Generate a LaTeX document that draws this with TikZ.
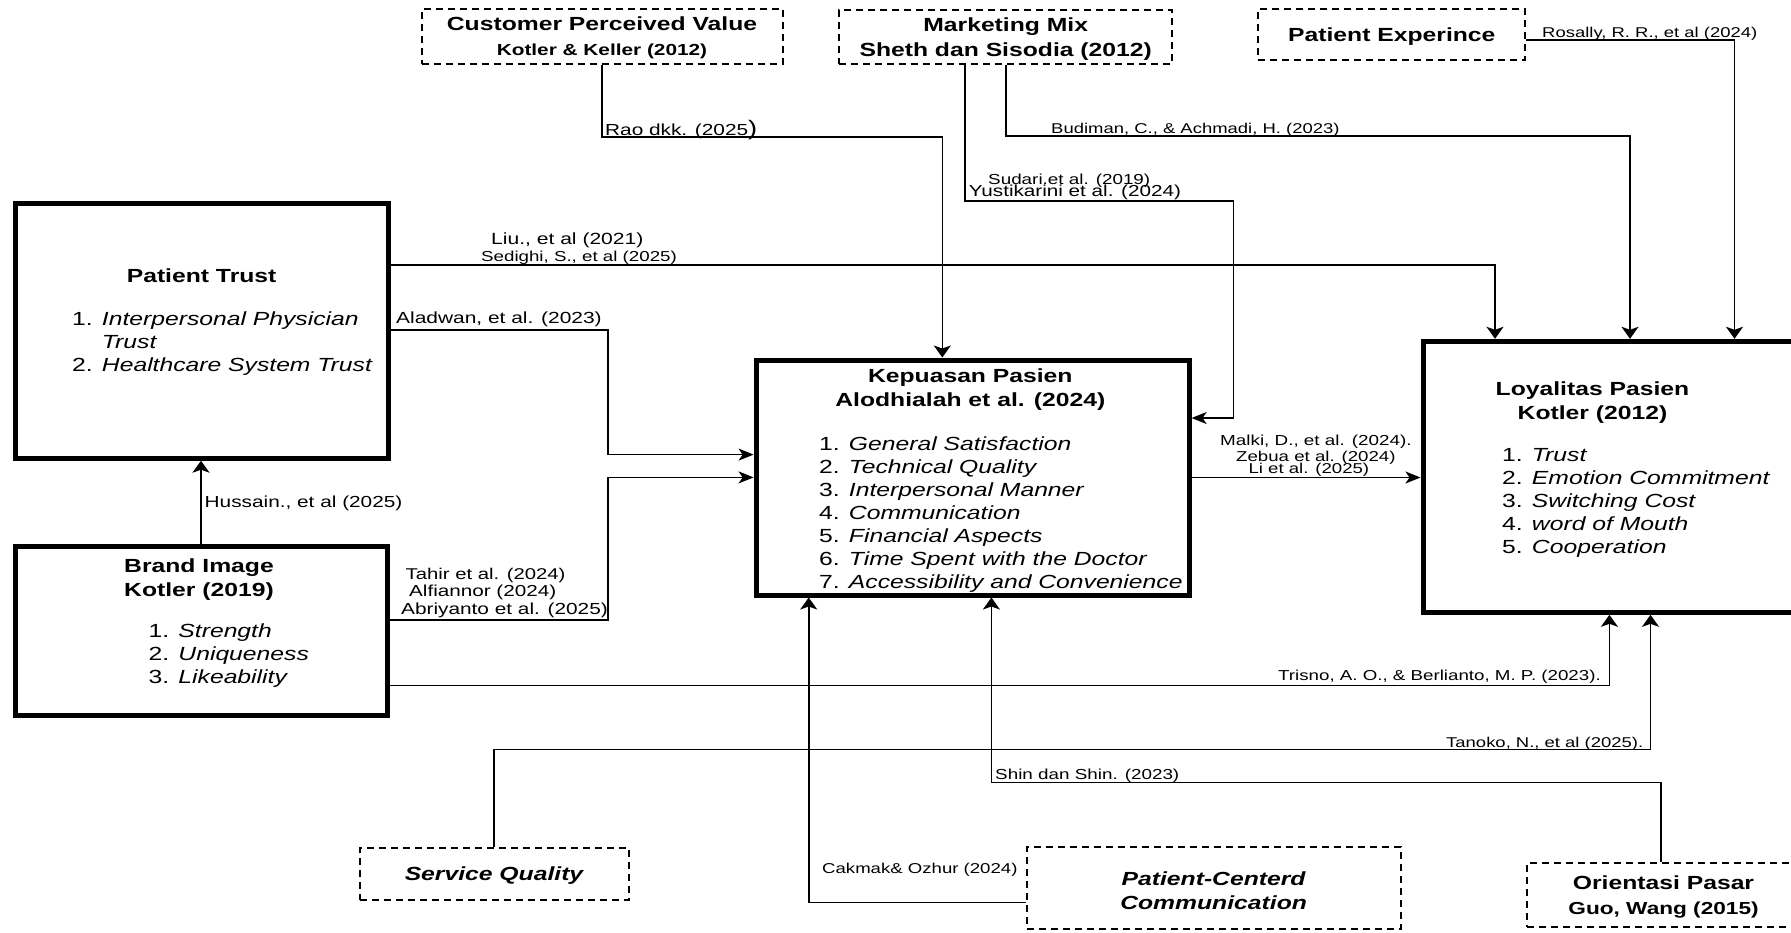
\documentclass[tikz,border=0pt]{standalone}
\usepackage{fontspec}
\setmainfont{Liberation Sans}
\usepackage{graphicx}
\usetikzlibrary{arrows.meta}
\newcommand\sx[1]{\scalebox{1.3}[1]{#1}}
\newcommand\fs[1]{\fontsize{#1}{23}\selectfont}
\newcommand\dn[2]{\raisebox{0pt}[\dimexpr\height+#1\relax][\depth]{#2}}
\begin{document}
\begin{tikzpicture}[x=1pt,y=-1pt,
  thickbox/.style={draw, line width=5pt, inner sep=0pt},
  dbox/.style={draw, line width=2pt, dash pattern=on 7pt off 5pt, inner sep=0pt},
  conn/.style={draw, line width=1.6pt},
  va/.style={conn, -{Stealth[length=12pt,width=17pt,inset=3pt]}},
  ha/.style={conn, -{Stealth[length=15pt,width=12pt,inset=4pt]}},
  lbl/.style={anchor=base west, inner sep=0pt},
  ttl/.style={anchor=base, inner sep=0pt},
  lst/.style={anchor=base west, inner sep=0pt},
]
\fill[white] (0,0) rectangle (1791,932);
\useasboundingbox (0,0) rectangle (1791,932);

% main boxes
\node[thickbox, minimum width=373pt, minimum height=255pt] (pt) at (201.5,330.7) {};
\node[thickbox, minimum width=372pt, minimum height=169pt] (bi) at (201,630.5) {};
\node[thickbox, minimum width=433pt, minimum height=235pt] (kp) at (972.6,477.5) {};
\node[thickbox, minimum width=387pt, minimum height=271pt] (loy) at (1616.5,476.8) {};

% box texts
\node[ttl, font=\fs{19}] (ptt) at (201.6,282) {\sx{\bfseries Patient Trust}};
\node[lst, font=\fs{19}] (ptl) at (72,325.5) {\sx{\begin{tabular}[t]{@{}l@{}}1. \textit{Interpersonal Physician}\\\hphantom{1. }\textit{Trust}\\2. \textit{Healthcare System Trust}\end{tabular}}};

\node[ttl, font=\fs{19}] (bit) at (199,572) {\sx{\begin{tabular}[t]{@{}c@{}}\bfseries Brand Image\\[1pt]\bfseries Kotler (2019)\end{tabular}}};
\node[lst, font=\fs{19}] (bil) at (148.5,637.3) {\sx{\begin{tabular}[t]{@{}l@{}}1. \textit{Strength}\\2. \textit{Uniqueness}\\3. \textit{Likeability}\end{tabular}}};

\node[ttl, font=\fs{19}] (kpt) at (970.3,382.6) {\sx{\begin{tabular}[t]{@{}c@{}}\bfseries Kepuasan Pasien\\[1pt]\bfseries Alodhialah et al. (2024)\end{tabular}}};
\node[lst, font=\fs{19}] (kpl) at (819,450) {\sx{\begin{tabular}[t]{@{}l@{}}1. \textit{General Satisfaction}\\2. \textit{Technical Quality}\\3. \textit{Interpersonal Manner}\\4. \textit{Communication}\\5. \textit{Financial Aspects}\\6. \textit{Time Spent with the Doctor}\\7. \textit{Accessibility and Convenience}\end{tabular}}};

\node[ttl, font=\fs{19}] (loyt) at (1592.5,395) {\sx{\begin{tabular}[t]{@{}c@{}}\bfseries Loyalitas Pasien\\[1pt]\bfseries Kotler (2012)\end{tabular}}};
\node[lst, font=\fs{19}] (loyl) at (1502,461.4) {\sx{\begin{tabular}[t]{@{}l@{}}1. \textit{Trust}\\2. \textit{Emotion Commitment}\\3. \textit{Switching Cost}\\4. \textit{word of Mouth}\\5. \textit{Cooperation}\end{tabular}}};

% dashed boxes
\node[dbox, minimum width=361pt, minimum height=55pt] (cpv) at (602,36) {\dn{5pt}{\sx{\fs{19}\begin{tabular}{@{}c@{}}\bfseries Customer Perceived Value\\[2.2pt]\fs{16}\bfseries Kotler \& Keller (2012)\end{tabular}}}};
\node[dbox, minimum width=333pt, minimum height=51pt] (mm) at (1005.7,36.5) {\dn{6pt}{\sx{\fs{19}\begin{tabular}{@{}c@{}}\bfseries Marketing Mix\\[2pt]\bfseries Sheth dan Sisodia (2012)\end{tabular}}}};
\node[dbox, minimum width=267pt, minimum height=51pt] (pe) at (1391.8,34.3) {\dn{4pt}{\sx{\fs{19}\bfseries Patient Experince}}};
\node[dbox, minimum width=269pt, minimum height=52pt] (sq) at (494,874.4) {\dn{3pt}{\sx{\fs{19}\bfseries\itshape Service Quality}}};
\node[dbox, minimum width=374pt, minimum height=82pt] (pcc) at (1213.6,888) {\dn{9pt}{\sx{\fs{19}\begin{tabular}{@{}c@{}}\bfseries\itshape Patient-Centerd\\[1pt]\bfseries\itshape Communication\end{tabular}}}};
\node[dbox, minimum width=273pt, minimum height=64pt] (op) at (1663.5,895) {\dn{5pt}{\sx{\fs{19}\begin{tabular}{@{}c@{}}\bfseries Orientasi Pasar\\[2pt]\fs{17.4}\bfseries Guo, Wang (2015)\end{tabular}}}};

% connectors
\coordinate (b1) at (942.3,137);
\draw[va] (cpv.south) |- (b1) -- (b1 |- kp.north);

\coordinate (b2) at (1630,136);
\draw[va] (mm.south) |- (b2) -- (b2 |- loy.north);

\coordinate (s3x) at (965,0);
\coordinate (b3) at (1233.6,201);
\coordinate (e3) at (0,418);
\draw[ha] (mm.south -| s3x) |- (b3) |- (kp.east |- e3);

\coordinate (s4) at (0,40);
\coordinate (b4) at (1734.5,0);
\draw[va] (pe.east |- s4) -| (loy.north -| b4);

\coordinate (s5) at (0,265);
\coordinate (b5) at (1495,0);
\draw[va] (pt.east |- s5) -| (loy.north -| b5);

\coordinate (s6) at (0,330);
\coordinate (b6) at (607.7,454.6);
\draw[ha] (pt.east |- s6) -| (b6) -- (kp.west |- b6);

\coordinate (s7) at (0,620);
\coordinate (b7) at (607.7,477.4);
\draw[ha] (bi.east |- s7) -| (b7) -- (kp.west |- b7);

\draw[va] (bi.north) -- (bi.north |- pt.south);

\draw[ha] (kp.east) -- (kp.east -| loy.west);

\coordinate (s10) at (0,685.3);
\coordinate (b10) at (1609.4,0);
\draw[va] (bi.east |- s10) -| (loy.south -| b10);

\coordinate (b11) at (1650.5,749.3);
\draw[va] (sq.north) |- (b11) -- (b11 |- loy.south);

\coordinate (s12) at (1660.7,0);
\coordinate (b12) at (991.4,782.4);
\draw[va] (op.north -| s12) |- (b12) -- (b12 |- kp.south);

\coordinate (s13) at (0,902.3);
\coordinate (b13) at (808.7,0);
\draw[va] (pcc.west |- s13) -| (kp.south -| b13);

% labels
\node[lbl, font=\fs{16}] (l1) at (605,135) {\sx{Rao dkk. (2025{\fontsize{21}{21}\selectfont)}}};
\node[lbl, font=\fs{14.2}] (l2) at (1051,133) {\sx{Budiman, C., \& Achmadi, H. (2023)}};
\node[lbl, font=\fs{14.5}] (l3a) at (988,184) {\sx{Sudari.et al. (2019)}};
\node[lbl, font=\fs{15.9}] (l3b) at (968.6,196.5) {\sx{Yustikarini et al. (2024)}};
\node[lbl, font=\fs{14.2}] (l4) at (1542,37) {\sx{Rosally, R. R., et al (2024)}};
\node[lbl, font=\fs{16.2}] (l5a) at (491,244.5) {\sx{Liu., et al (2021)}};
\node[lbl, font=\fs{14.4}] (l5b) at (481,261) {\sx{Sedighi, S., et al (2025)}};
\node[lbl, font=\fs{16.1}] (l6) at (396,323) {\sx{Aladwan, et al. (2023)}};
\node[lbl, font=\fs{16}] (l8) at (204.5,507) {\sx{Hussain., et al (2025)}};
\node[lbl, font=\fs{15.6}] (l7a) at (405.5,579) {\sx{Tahir et al. (2024)}};
\node[lbl, font=\fs{15.9}] (l7b) at (409,596) {\sx{Alfiannor (2024)}};
\node[lbl, font=\fs{16}] (l7c) at (401,614.5) {\sx{Abriyanto et al. (2025)}};
\node[lbl, font=\fs{14.5}] (l9a) at (1220,445) {\sx{Malki, D., et al. (2024).}};
\node[lbl, font=\fs{14.35}] (l9b) at (1236,461) {\sx{Zebua et al. (2024)}};
\node[lbl, font=\fs{14.3}] (l9c) at (1248.4,473.5) {\sx{Li et al. (2025)}};
\node[lbl, font=\fs{14.4}] (l10) at (1278,680) {\sx{Trisno, A. O., \& Berlianto, M. P. (2023).}};
\node[lbl, font=\fs{14.2}] (l11) at (1446,747.5) {\sx{Tanoko, N., et al (2025).}};
\node[lbl, font=\fs{14.5}] (l12) at (995,779.5) {\sx{Shin dan Shin. (2023)}};
\node[lbl, font=\fs{14.3}] (l13) at (822,873) {\sx{Cakmak\& Ozhur (2024)}};
\end{tikzpicture}
\end{document}
